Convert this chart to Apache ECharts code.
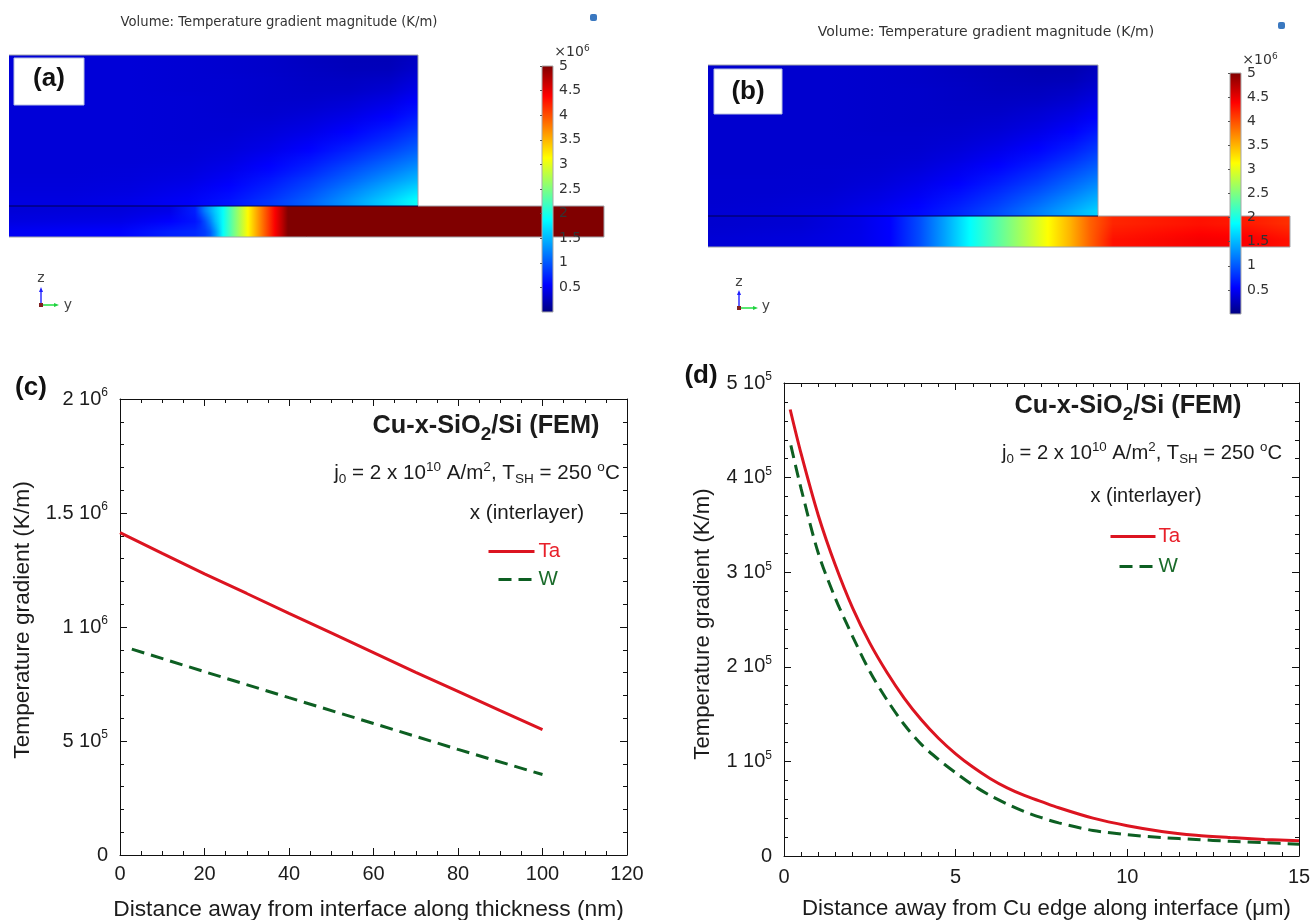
<!DOCTYPE html>
<html>
<head>
<meta charset="utf-8">
<script src="https://cdn.jsdelivr.net/npm/echarts@6/dist/echarts.min.js"></script>
<style>html,body{margin:0;padding:0;background:#fff}#c{width:1311px;height:920px}</style>
</head>
<body>
<div id="c"></div>
<script>
// ---------- line plots ----------
const xTa_c = [0,10,20,30,40,50,60,70,80,90,100];
const yTa_c = [1.414e6,1.323e6,1.233e6,1.147e6,1.06e6,0.974e6,0.888e6,0.801e6,0.718e6,0.633e6,0.55e6];
const xW_c = [2.8,20,40,60,80,100];
const yW_c = [0.903e6,0.804e6,0.69e6,0.577e6,0.463e6,0.353e6];
const xTa_d = [0.18,0.5,1,1.5,2,2.5,3,3.5,4,4.5,5,5.5,6,6.5,7,7.5,8,9,10,11,12,13,14,15];
const yTa_d = [4.72e5,4.25e5,3.6e5,3.07e5,2.62e5,2.25e5,1.94e5,1.67e5,1.44e5,1.245e5,1.08e5,0.94e5,0.82e5,0.72e5,0.64e5,0.575e5,0.51e5,0.4e5,0.32e5,0.26e5,0.22e5,0.195e5,0.175e5,0.16e5];
const xW_d = [0.2,0.5,1,1.5,2,2.5,3,3.5,4,4.5,5,5.5,6,6.5,7,7.5,8,9,10,11,12,13,14,15];
const yW_d = [4.34e5,3.88e5,3.2e5,2.72e5,2.32e5,1.95e5,1.65e5,1.39e5,1.18e5,1.02e5,0.88e5,0.75e5,0.64e5,0.55e5,0.47e5,0.405e5,0.35e5,0.27e5,0.225e5,0.195e5,0.175e5,0.155e5,0.14e5,0.125e5];
const yLabels_c = {0:['0',''],500000:['5 10','5'],1000000:['1 10','6'],1500000:['1.5 10','6'],2000000:['2 10','6']};
const yLabels_d = {0:['0',''],100000:['1 10','5'],200000:['2 10','5'],300000:['3 10','5'],400000:['4 10','5'],500000:['5 10','5']};
const barTicks = [0.5,1,1.5,2,2.5,3,3.5,4,4.5,5];

// ---------- jet colour scale of the colour bars (x10^6 K/m) ----------
const jetValues = [0,0.55,1.88,3.13,4.38,5];
const jetColors = [[0,0,128],[0,0,255],[0,255,255],[255,255,0],[255,0,0],[128,0,0]];

// ---------- field (a) ----------
const blockColsA = [0,60,120,180,220,260,300,340,380,409];
const blockA = [
[.38,.38,.38,.36,.34,.32,.28,.25,.24,.30],
[.38,.38,.38,.36,.34,.32,.29,.26,.26,.34],
[.38,.38,.38,.36,.35,.33,.30,.29,.31,.40],
[.38,.38,.38,.36,.35,.33,.31,.31,.36,.46],
[.38,.38,.38,.37,.35,.33,.33,.36,.43,.54],
[.38,.38,.38,.37,.35,.34,.36,.41,.50,.62],
[.38,.38,.38,.37,.36,.36,.40,.47,.58,.72],
[.38,.38,.38,.37,.36,.39,.44,.54,.68,.82],
[.38,.38,.38,.37,.38,.42,.50,.62,.78,.94],
[.38,.38,.38,.38,.40,.46,.56,.72,.90,1.06],
[.38,.38,.38,.39,.43,.52,.65,.83,1.04,1.20],
[.38,.38,.39,.41,.47,.58,.74,.96,1.18,1.36],
[.39,.39,.40,.44,.52,.66,.85,1.08,1.34,1.52],
[.40,.40,.42,.48,.58,.74,.95,1.22,1.50,1.72],
[.42,.42,.45,.52,.64,.82,1.05,1.34,1.65,1.92]];
const stripColsA = [0,111,161,186,191,196,201,206,214,226,239,253,266,273,279,595];
const stripA = [
[.38,.40,.45,.70,.95,1.2,1.4,1.6,1.9,2.5,3.15,3.8,4.4,4.7,5,5],
[.42,.45,.55,.65,.75,.95,1.2,1.5,1.9,2.5,3.15,3.8,4.4,4.7,5,5],
[.50,.55,.70,.75,.80,.85,1.0,1.3,1.9,2.5,3.15,3.8,4.4,4.7,5,5]];

// ---------- field (b) ----------
const blockColsB = [0,60,120,170,210,250,290,330,365,390];
const blockB = [
[.34,.34,.34,.33,.31,.28,.25,.22,.22,.28],
[.34,.34,.34,.33,.31,.29,.26,.24,.25,.32],
[.34,.34,.34,.33,.32,.30,.27,.27,.30,.37],
[.34,.34,.34,.33,.32,.30,.29,.30,.35,.43],
[.34,.34,.34,.33,.32,.31,.31,.35,.41,.50],
[.34,.34,.34,.33,.32,.32,.34,.39,.47,.57],
[.34,.34,.34,.33,.33,.34,.37,.44,.54,.66],
[.34,.34,.34,.34,.34,.36,.41,.50,.62,.76],
[.34,.34,.34,.34,.35,.39,.46,.57,.71,.86],
[.34,.34,.34,.35,.37,.43,.52,.65,.82,.97],
[.34,.34,.35,.36,.40,.48,.59,.75,.94,1.09],
[.35,.35,.35,.38,.44,.53,.67,.85,1.06,1.22],
[.35,.35,.36,.41,.48,.60,.76,.96,1.18,1.36],
[.35,.36,.38,.44,.53,.67,.85,1.08,1.32,1.50],
[.36,.37,.40,.48,.58,.74,.94,1.20,1.45,1.65]];
const stripColsB = [0,92,152,182,212,237,262,292,317,340,362,382,405,492,542,582];
const stripB = [
[.34,.36,.45,.55,.95,1.4,1.88,2.35,2.75,3.13,3.5,3.9,4.2,4.3,4.25,4.15],
[.37,.40,.46,.55,.95,1.4,1.88,2.35,2.75,3.13,3.5,3.9,4.3,4.42,4.4,4.3]];

const outlineA = [[0,0],[409,0],[409,151],[595,151],[595,182],[0,182]];
const interfaceA = [[0,151],[409,151]];
const outlineB = [[0,0],[390,0],[390,151],[582,151],[582,182],[0,182]];
const interfaceB = [[0,151],[390,151]];

function jet(v){
  v=Math.max(0,Math.min(5,v));
  let i=0; while(i<jetValues.length-2 && v>jetValues[i+1]) i++;
  const t=(v-jetValues[i])/(jetValues[i+1]-jetValues[i]);
  const c=jetColors[i].map((a,k)=>Math.round(a+(jetColors[i+1][k]-a)*t));
  return 'rgb('+c.join(',')+')';
}
const G = echarts.graphic;
// each read row is painted as a stack of whole-pixel bands so the picture stays soft like the reference
function fieldSeries(cols, rows, y0, y1, xi, yi){
  const h=(y1-y0)/rows.length, span=cols[cols.length-1]-cols[0];
  return {type:'custom',xAxisIndex:xi,yAxisIndex:yi,z:2,silent:true,clip:false,
    encode:{x:0,y:1},
    data:rows.map((r,i)=>[cols[0],y0+i*h,cols[cols.length-1],y0+(i+1)*h,i]),
    renderItem(p,api){
      const a=api.coord([api.value(0),api.value(1)]), b=api.coord([api.value(2),api.value(3)]);
      const i=api.value(4), children=[];
      const top=Math.round(a[1]), bottom=Math.round(b[1]);
      for(let yy=top;yy<bottom;yy++){
        const pos=i+(yy+.5-a[1])/(b[1]-a[1])-.5, lo=Math.max(0,Math.floor(pos)), hi=Math.min(rows.length-1,lo+1), f=Math.max(0,pos-lo);
        children.push({type:'rect',shape:{x:a[0],y:yy,width:b[0]-a[0],height:1},
          style:{fill:new G.LinearGradient(0,0,1,0,cols.map((c,k)=>({offset:(c-cols[0])/span,color:jet(rows[lo][k]*(1-f)+rows[hi][k]*f)})))}});
      }
      return {type:'group',children};
    }};
}
function barSeries(xi,yi){
  return {type:'custom',xAxisIndex:xi,yAxisIndex:yi,z:6,silent:true,clip:false,encode:{x:0,y:1},
    data:[[0,0,1,5]],
    renderItem(p,api){
      const a=api.coord([0,5]), b=api.coord([1,0]);
      return {type:'rect',shape:{x:a[0],y:a[1],width:b[0]-a[0],height:b[1]-a[1]},
        style:{stroke:'#a8a8a8',lineWidth:1,fill:new G.LinearGradient(0,0,0,1,jetValues.map((v)=>({offset:1-v/5,color:jet(v)})).reverse())}};
    }};
}
function polyline(data,color,w,xi,yi,z){
  return {type:'line',data,xAxisIndex:xi,yAxisIndex:yi,symbol:'none',silent:true,z:z,clip:false,lineStyle:{color,width:w}};
}
function zip(a,b){return a.map((v,i)=>[v,b[i]]);}
const font='"Liberation Sans", Arial, sans-serif';
const INK='#1c1c1c';
function plotX(gi,min,max,interval,split,name,pad,margin,gap,nameSize){
  return {gridIndex:gi,type:'value',min,max,interval,position:'bottom',
    axisLine:{show:true,onZero:false,lineStyle:{color:'#111',width:1}},
    axisTick:{show:true,inside:true,length:7,lineStyle:{color:'#111'}},
    minorTick:{show:true,splitNumber:split,length:4,lineStyle:{color:'#111'}},
    splitLine:{show:false},
    axisLabel:{color:INK,fontFamily:font,fontSize:20,margin,hideOverlap:false},
    name,nameLocation:'middle',nameGap:gap,nameTextStyle:{color:INK,fontFamily:font,fontSize:nameSize,padding:pad}};
}
function plotXTop(gi,min,max,interval,split){
  return {gridIndex:gi,type:'value',min,max,interval,position:'top',
    axisLine:{show:true,onZero:false,lineStyle:{color:'#111',width:1}},
    axisTick:{show:true,inside:true,length:7,lineStyle:{color:'#111'}},
    minorTick:{show:true,splitNumber:split,length:4,lineStyle:{color:'#111'}},
    splitLine:{show:false},axisLabel:{show:false}};
}
function plotY(gi,max,interval,split,labels,name,gap,pad,nameSize){
  return {gridIndex:gi,type:'value',min:0,max,interval,position:'left',
    axisLine:{show:true,onZero:false,lineStyle:{color:'#111',width:1}},
    axisTick:{show:true,inside:true,length:7,lineStyle:{color:'#111'}},
    minorTick:{show:true,splitNumber:split,length:4,lineStyle:{color:'#111'}},
    splitLine:{show:false},
    axisLabel:{margin:12,formatter:v=>{const l=labels[v];return '{b|'+l[0]+'}'+(l[1]?'{s|'+l[1]+'}':'');},
      rich:{b:{color:INK,fontFamily:font,fontSize:20},s:{color:INK,fontFamily:font,fontSize:12,padding:[0,0,12,0]}}},
    name,nameLocation:'middle',nameGap:gap,nameTextStyle:{color:INK,fontFamily:font,fontSize:nameSize,padding:pad}};
}
function plotYRight(gi,max,interval,split){
  return {gridIndex:gi,type:'value',min:0,max,interval,position:'right',
    axisLine:{show:true,onZero:false,lineStyle:{color:'#111',width:1}},
    axisTick:{show:true,inside:true,length:7,lineStyle:{color:'#111'}},
    minorTick:{show:true,splitNumber:split,length:4,lineStyle:{color:'#111'}},
    splitLine:{show:false},axisLabel:{show:false}};
}
const hiddenAxis=(gi,min,max,inv)=>({gridIndex:gi,type:'value',min,max,inverse:!!inv,show:false});
function barY(gi){
  return {gridIndex:gi,type:'value',min:0,max:5,interval:.5,position:'right',z:10,
    axisLine:{show:false},axisTick:{show:true,inside:true,length:2,customValues:barTicks,lineStyle:{color:'#555'}},splitLine:{show:false},
    axisLabel:{margin:6,color:'#333',fontFamily:'"DejaVu Sans",sans-serif',fontSize:14,customValues:barTicks}};
}
const RED='#dc1420', GREEN='#0d5f22';
const sup=(fs)=>({fontFamily:font,fontSize:fs,color:INK,padding:[0,0,12,0]});
const sub=(fs)=>({fontFamily:font,fontSize:fs,color:INK,padding:[12,0,0,0]});
function text(x,y,s,st,rich){
  return {type:'text',x,y,z:20,silent:true,style:Object.assign({text:s,fontFamily:font,fill:INK,align:'center',verticalAlign:'middle',rich},st)};
}
const richNote=(fs)=>({n:{fontFamily:font,fontSize:fs,color:INK},u:sup(fs*0.66),d:sub(fs*0.66)});
const richTitle={n:{fontFamily:font,fontSize:25.3,fontWeight:'bold',color:INK},d:{fontFamily:font,fontSize:19,fontWeight:'bold',color:INK,padding:[17,0,0,0]}};
const noteStr='{n|j}{d|0}{n| = 2 x 10}{u|10}{n| A/m}{u|2}{n|, T}{d|SH}{n| = 250 }{u|o}{n|C}';
const titleStr='{n|Cu-x-SiO}{d|2}{n|/Si (FEM)}';
function triad(ox,oy,zy,yx,zLabelY,yLabelX,yLabelY){
  return [
    {type:'line',z:20,shape:{x1:ox,y1:oy,x2:ox,y2:zy},style:{stroke:'#3030ff',lineWidth:1.5}},
    {type:'polygon',z:20,shape:{points:[[ox,zy-4],[ox-2,zy+1],[ox+2,zy+1]]},style:{fill:'#2020ff'}},
    {type:'line',z:20,shape:{x1:ox,y1:oy,x2:yx,y2:oy},style:{stroke:'#20e040',lineWidth:1.5}},
    {type:'polygon',z:20,shape:{points:[[yx+4,oy],[yx-1,oy-2],[yx-1,oy+2]]},style:{fill:'#20d040'}},
    {type:'rect',z:21,shape:{x:ox-2,y:oy-2,width:4,height:4},style:{fill:'#802020'}},
    text(ox,zLabelY,'z',{fontFamily:'"DejaVu Sans",sans-serif',fontSize:14,fill:'#444'}),
    text(yLabelX,yLabelY,'y',{fontFamily:'"DejaVu Sans",sans-serif',fontSize:14,fill:'#444'})
  ];
}
const legends=(name,left,top,width,color,pad,dash)=>({show:true,data:[name],orient:'horizontal',left,top,itemWidth:width,itemHeight:14,itemGap:0,
  padding:0,selectedMode:false,itemStyle:{opacity:0},lineStyle:{width:3,type:dash||'solid'},
  textStyle:{color,fontFamily:font,fontSize:20.5,padding:[0,0,0,pad]}});

const option={
  animation:false,backgroundColor:'#fff',
  grid:[
    {left:9,top:55,width:595,height:182,outerBoundsMode:'none'},
    {left:708,top:65,width:582,height:182,outerBoundsMode:'none'},
    {left:542,top:66,width:11,height:246,outerBoundsMode:'none'},
    {left:1230,top:73,width:11,height:241,outerBoundsMode:'none'},
    {left:120,top:399,width:507,height:456,outerBoundsMode:'none'},
    {left:784,top:383,width:515,height:473,outerBoundsMode:'none'}
  ],
  xAxis:[
    hiddenAxis(0,0,595),hiddenAxis(1,0,582),hiddenAxis(2,0,1),hiddenAxis(3,0,1),
    plotX(4,0,120,20,4,'Distance away from interface along thickness (nm)',[0,10,0,0],9,43,22.8),
    plotXTop(4,0,120,20,4),
    plotX(5,0,15,5,10,'Distance away from Cu edge along interface (\u03bcm)',[0,0,0,10],11,42,22.2),
    plotXTop(5,0,15,5,10)
  ],
  yAxis:[
    hiddenAxis(0,0,182,true),hiddenAxis(1,0,182,true),barY(2),barY(3),
    plotY(4,2e6,5e5,5,yLabels_c,'Temperature gradient (K/m)',86,[0,0,0,14],22.7),
    plotYRight(4,2e6,5e5,5),
    plotY(5,5e5,1e5,5,yLabels_d,'Temperature gradient (K/m)',70,[0,9,0,0],22.2),
    plotYRight(5,5e5,1e5,5)
  ],
  legend:[
    legends('Ta',487,541,46,'#e8202a',-1),
    legends('W ',497,569,33,'#1a6b2a',2,[13,7]),
    legends('Ta',1109,526,45,'#e8202a',-2),
    legends('W ',1118,556,34,'#1a6b2a',0,[13,7])
  ],
  series:[
    fieldSeries(blockColsA,blockA,0,151,0,0),
    fieldSeries(stripColsA,stripA,151,182,0,0),
    fieldSeries(blockColsB,blockB,0,151,1,1),
    fieldSeries(stripColsB,stripB,151,182,1,1),
    polyline(outlineA,'#a0a4aa',1,0,0,3),
    polyline(interfaceA,'#000050',1.2,0,0,4),
    polyline(outlineB,'#a0a4aa',1,1,1,3),
    polyline(interfaceB,'#000050',1.2,1,1,4),
    barSeries(2,2),barSeries(3,3),
    {name:'Ta',type:'line',xAxisIndex:4,yAxisIndex:4,data:zip(xTa_c,yTa_c),symbol:'none',z:5,itemStyle:{color:RED},lineStyle:{color:RED,width:3}},
    {name:'W ',type:'line',xAxisIndex:4,yAxisIndex:4,data:zip(xW_c,yW_c),symbol:'none',z:5,itemStyle:{color:GREEN},lineStyle:{color:GREEN,width:3,type:[13,7]}},
    {name:'Ta',type:'line',xAxisIndex:6,yAxisIndex:6,data:zip(xTa_d,yTa_d),symbol:'none',smooth:0.3,z:6,itemStyle:{color:RED},lineStyle:{color:RED,width:3}},
    {name:'W ',type:'line',xAxisIndex:6,yAxisIndex:6,data:zip(xW_d,yW_d),symbol:'none',smooth:0.3,z:5,itemStyle:{color:GREEN},lineStyle:{color:GREEN,width:3,type:[13,7]}}
  ],
  graphic:{elements:[
    text(279,23,'Volume: Temperature gradient magnitude (K/m)',{fontFamily:'"DejaVu Sans",sans-serif',fontSize:13.2,fill:'#333'}),
    text(986,32,'Volume: Temperature gradient magnitude (K/m)',{fontFamily:'"DejaVu Sans",sans-serif',fontSize:14,fill:'#333'}),
    {type:'rect',z:20,shape:{x:590,y:14,width:7,height:7,r:2},style:{fill:'#3a78c0'}},
    {type:'rect',z:20,shape:{x:1278,y:22,width:7,height:7,r:2},style:{fill:'#3a78c0'}},
    {type:'rect',z:19,shape:{x:14,y:58,width:70,height:47},style:{fill:'#fff',stroke:'#b8c0e0',lineWidth:1}},
    {type:'rect',z:19,shape:{x:714,y:69,width:68,height:45},style:{fill:'#fff',stroke:'#b8c0e0',lineWidth:1}},
    text(49,79,'(a)',{fontSize:26,fontWeight:'bold',fill:'#111'}),
    text(748,92,'(b)',{fontSize:26,fontWeight:'bold',fill:'#111'}),
    text(31,388,'(c)',{fontSize:26,fontWeight:'bold',fill:'#111'}),
    text(701,376,'(d)',{fontSize:26,fontWeight:'bold',fill:'#111'}),
    text(572,52,'\u00d710{s|6}',{fontFamily:'"DejaVu Sans",sans-serif',fontSize:14,fill:'#333'},{s:{fontFamily:'"DejaVu Sans",sans-serif',fontSize:9,color:'#555',padding:[0,0,7,0]}}),
    text(1260,60,'\u00d710{s|6}',{fontFamily:'"DejaVu Sans",sans-serif',fontSize:14,fill:'#333'},{s:{fontFamily:'"DejaVu Sans",sans-serif',fontSize:9,color:'#555',padding:[0,0,7,0]}}),
    ...triad(41,305,291,55,278,68,305),
    ...triad(739,308,294,754,282,766,306),
    text(486,426,titleStr,{},richTitle),
    text(477,473,noteStr,{},richNote(20.6)),
    text(527,513,'x (interlayer)',{fontSize:20.6}),
    text(1128,406,titleStr,{},richTitle),
    text(1142,453,noteStr,{},richNote(20.2)),
    text(1146,496,'x (interlayer)',{fontSize:20})
  ]}
};
const chart=echarts.init(document.getElementById('c'),null,{renderer:'canvas'});
chart.setOption(option);
</script>
</body>
</html>
